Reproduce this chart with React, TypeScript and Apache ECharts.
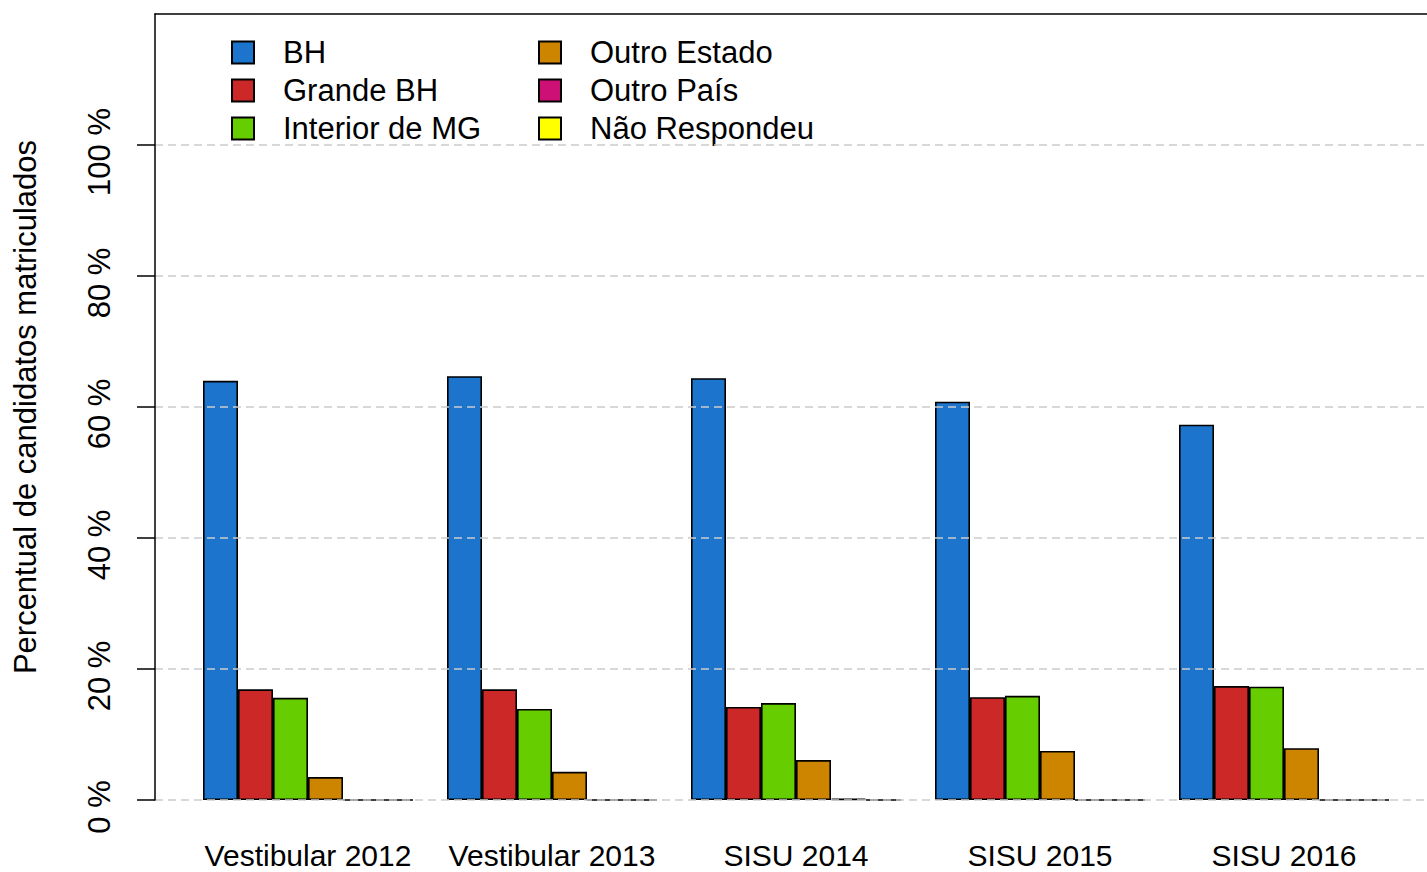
import React, { useEffect, useRef } from "react";
import * as echarts from "echarts";

const categories = ["Vestibular 2012", "Vestibular 2013", "SISU 2014", "SISU 2015", "SISU 2016"];
const seriesNames = ["BH", "Grande BH", "Interior de MG", "Outro Estado", "Outro País", "Não Respondeu"];
const seriesColors = ["#1C74CD", "#CD2828", "#66CD00", "#CD8500", "#CD1076", "#FFFF00"];
const bhValues = [64.0, 64.7, 64.4, 60.8, 57.3];
const grandeBhValues = [16.9, 16.9, 14.2, 15.7, 17.4];
const interiorValues = [15.6, 13.9, 14.8, 15.9, 17.3];
const outroEstadoValues = [3.5, 4.3, 6.1, 7.5, 7.9];
const outroPaisValues = [0, 0, 0.2, 0, 0];
const naoRespondeuValues = [0, 0, 0, 0, 0];
const yTickValues = [0, 20, 40, 60, 80, 100];

const allValues = [bhValues, grandeBhValues, interiorValues, outroEstadoValues, outroPaisValues, naoRespondeuValues];

export default function App() {
  const ref = useRef<HTMLDivElement>(null);
  useEffect(() => {
    if (!ref.current) return;
    const chart = echarts.init(ref.current, null, { renderer: "svg" });
    const font = "'Liberation Sans', Arial, sans-serif";
    const legendText = {
      fontFamily: font,
      fontSize: 31,
      color: "#000",
      lineHeight: 31,
      padding: [0, 0, 0, 24],
    };
    chart.setOption({
      animation: false,
      backgroundColor: "#fff",
      textStyle: { fontFamily: font },
      grid: [
        { left: 155, right: 0, top: 14, bottom: 72, containLabel: false },
        { left: 186, width: 1220, top: 14, bottom: 72, containLabel: false },
      ],
      legend: [
        {
          data: seriesNames.slice(0, 3),
          orient: "vertical",
          left: 231,
          top: 37,
          padding: 0,
          itemWidth: 22,
          itemHeight: 22,
          itemGap: 7,
          icon: "rect",
          textStyle: legendText,
          selectedMode: false,
        },
        {
          data: seriesNames.slice(3),
          orient: "vertical",
          left: 538,
          top: 37,
          padding: 0,
          itemWidth: 22,
          itemHeight: 22,
          itemGap: 7,
          icon: "rect",
          textStyle: legendText,
          selectedMode: false,
        },
      ],
      xAxis: [
        {
          gridIndex: 0,
          type: "value",
          min: 0,
          max: 1,
          position: "top",
          axisLine: { show: true, onZero: false, lineStyle: { color: "#000", width: 1.5 } },
          axisTick: { show: false },
          axisLabel: { show: false },
          splitLine: { show: false },
          z: 12,
        },
        {
          gridIndex: 1,
          type: "category",
          data: categories,
          axisLine: { show: false },
          axisTick: { show: false },
          axisLabel: {
            interval: 0,
            fontFamily: font,
            fontSize: 30,
            lineHeight: 26,
            color: "#000",
            margin: 42,
          },
        },
      ],
      yAxis: [
        {
          gridIndex: 0,
          type: "value",
          min: 0,
          max: 120,
          interval: 20,
          z: 10,
          name: "Percentual de candidatos matriculados",
          nameLocation: "middle",
          nameGap: 114,
          nameTextStyle: { fontFamily: font, fontSize: 31, color: "#000" },
          axisLine: { show: true, onZero: false, lineStyle: { color: "#000", width: 1.5 } },
          axisTick: {
            show: true,
            length: 18,
            lineStyle: { color: "#000", width: 1.5 },
            customValues: yTickValues,
          },
          axisLabel: {
            rotate: 90,
            margin: 40,
            fontFamily: font,
            fontSize: 31,
            color: "#000",
            padding: [0, 14, 0, 0],
            customValues: yTickValues,
            formatter: (v: number) => (v > 100 ? "" : v + " %"),
          },
          splitLine: {
            show: true,
            lineStyle: { color: "#CCCCCC", width: 1.5, type: [8, 5] },
          },
        },
        {
          gridIndex: 1,
          type: "value",
          min: 0,
          max: 120,
          show: false,
          splitLine: { show: false },
        },
      ],
      series: seriesNames.map((name, i) => ({
        name,
        type: "bar",
        xAxisIndex: 1,
        yAxisIndex: 1,
        data: allValues[i],
        barWidth: 35,
        barGap: "0%",
        itemStyle: { color: seriesColors[i], borderColor: "#000", borderWidth: 1.6 },
      })),
    });
    return () => chart.dispose();
  }, []);
  return (
    <div
      ref={ref}
      style={{ position: "fixed", left: 0, top: 0, width: 1427, height: 872 }}
    />
  );
}
